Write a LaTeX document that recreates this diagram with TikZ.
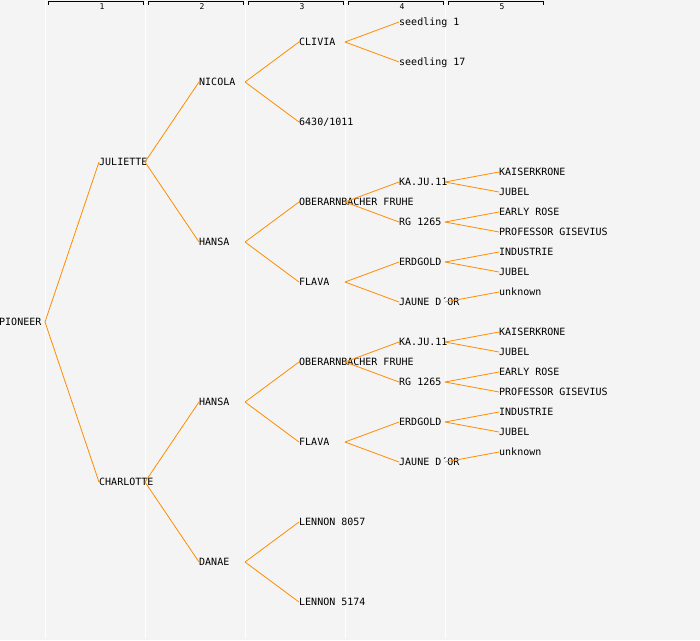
\documentclass[tikz,border=0pt]{standalone}
\usepackage{fontspec}
\setmonofont{DejaVu Sans Mono}
\usetikzlibrary{calc}

\definecolor{bggray}{RGB}{244,244,244}
\definecolor{edgeorange}{RGB}{255,140,0}

\begin{document}
\begin{tikzpicture}[x=1pt, y=-1pt,
    cultivar/.style={anchor=west, inner sep=0pt, text height=7pt, text depth=0pt,
      font=\ttfamily\fontsize{10}{10}\selectfont},
    edge/.style={draw=edgeorange, line width=0.8pt}]
  \fill[bggray] (0,0) rectangle (700,640);
  \useasboundingbox (0,0) rectangle (700,640);

  % generation columns
  \foreach \i in {1,...,5} {
    \draw[white, line width=1pt] (100*\i-55, 0) -- (100*\i-55, 638);
    \draw[black, line width=0.7pt] (100*\i-52, 4.5) |- (100*\i+43, 1.5) -- (100*\i+43, 4.5);
    \node[inner sep=0pt, font=\ttfamily\fontsize{8}{8}\selectfont] (G\i) at (100*\i+2, 6.5) {\i};
  }

  \node[cultivar] (PIO) at (-1, 322) {PIONEER};

  \node[cultivar] (JUL) at (99, 162) {JULIETTE};
  \node[cultivar] (CHA) at (99, 482) {CHARLOTTE};

  \node[cultivar] (NIC) at (199, 82) {NICOLA};
  \node[cultivar] (HANa) at (199, 242) {HANSA};
  \node[cultivar] (HANb) at (199, 402) {HANSA};
  \node[cultivar] (DAN) at (199, 562) {DANAE};

  \node[cultivar] (CLI) at (299, 42) {CLIVIA};
  \node[cultivar] (SDL) at (299, 122) {6430/1011};
  \node[cultivar] (OBEa) at (299, 202) {OBERARNBACHER FRUHE};
  \node[cultivar] (FLAa) at (299, 282) {FLAVA};
  \node[cultivar] (OBEb) at (299, 362) {OBERARNBACHER FRUHE};
  \node[cultivar] (FLAb) at (299, 442) {FLAVA};
  \node[cultivar] (LENa) at (299, 522) {LENNON 8057};
  \node[cultivar] (LENb) at (299, 602) {LENNON 5174};

  \node[cultivar] (SEEa) at (399, 22) {seedling 1};
  \node[cultivar] (SEEb) at (399, 62) {seedling 17};
  \node[cultivar] (KAJa) at (399, 182) {KA.JU.11};
  \node[cultivar] (RGa) at (399, 222) {RG 1265};
  \node[cultivar] (ERDa) at (399, 262) {ERDGOLD};
  \node[cultivar] (JAUa) at (399, 302) {JAUNE D´OR};
  \node[cultivar] (KAJb) at (399, 342) {KA.JU.11};
  \node[cultivar] (RGb) at (399, 382) {RG 1265};
  \node[cultivar] (ERDb) at (399, 422) {ERDGOLD};
  \node[cultivar] (JAUb) at (399, 462) {JAUNE D´OR};

  \node[cultivar] (KAIa) at (499, 172) {KAISERKRONE};
  \node[cultivar] (JUBa) at (499, 192) {JUBEL};
  \node[cultivar] (EARa) at (499, 212) {EARLY ROSE};
  \node[cultivar] (PROa) at (499, 232) {PROFESSOR GISEVIUS};
  \node[cultivar] (INDa) at (499, 252) {INDUSTRIE};
  \node[cultivar] (JUBc) at (499, 272) {JUBEL};
  \node[cultivar] (UNKa) at (499, 292) {unknown};
  \node[cultivar] (KAIb) at (499, 332) {KAISERKRONE};
  \node[cultivar] (JUBb) at (499, 352) {JUBEL};
  \node[cultivar] (EARb) at (499, 372) {EARLY ROSE};
  \node[cultivar] (PROb) at (499, 392) {PROFESSOR GISEVIUS};
  \node[cultivar] (INDb) at (499, 412) {INDUSTRIE};
  \node[cultivar] (JUBd) at (499, 432) {JUBEL};
  \node[cultivar] (UNKb) at (499, 452) {unknown};

  % parent to child
  \foreach \a/\b in {PIO/JUL, PIO/CHA, JUL/NIC, JUL/HANa, CHA/HANb, CHA/DAN,
      NIC/CLI, NIC/SDL, HANa/OBEa, HANa/FLAa, HANb/OBEb, HANb/FLAb, DAN/LENa, DAN/LENb,
      CLI/SEEa, CLI/SEEb, OBEa/KAJa, OBEa/RGa, FLAa/ERDa, FLAa/JAUa,
      OBEb/KAJb, OBEb/RGb, FLAb/ERDb, FLAb/JAUb,
      KAJa/KAIa, KAJa/JUBa, RGa/EARa, RGa/PROa, ERDa/INDa, ERDa/JUBc, JAUa/UNKa,
      KAJb/KAIb, KAJb/JUBb, RGb/EARb, RGb/PROb, ERDb/INDb, ERDb/JUBd, JAUb/UNKb}
    \draw[edge] ($(\a.west)+(46,0)$) -- (\b.west);
\end{tikzpicture}
\end{document}
